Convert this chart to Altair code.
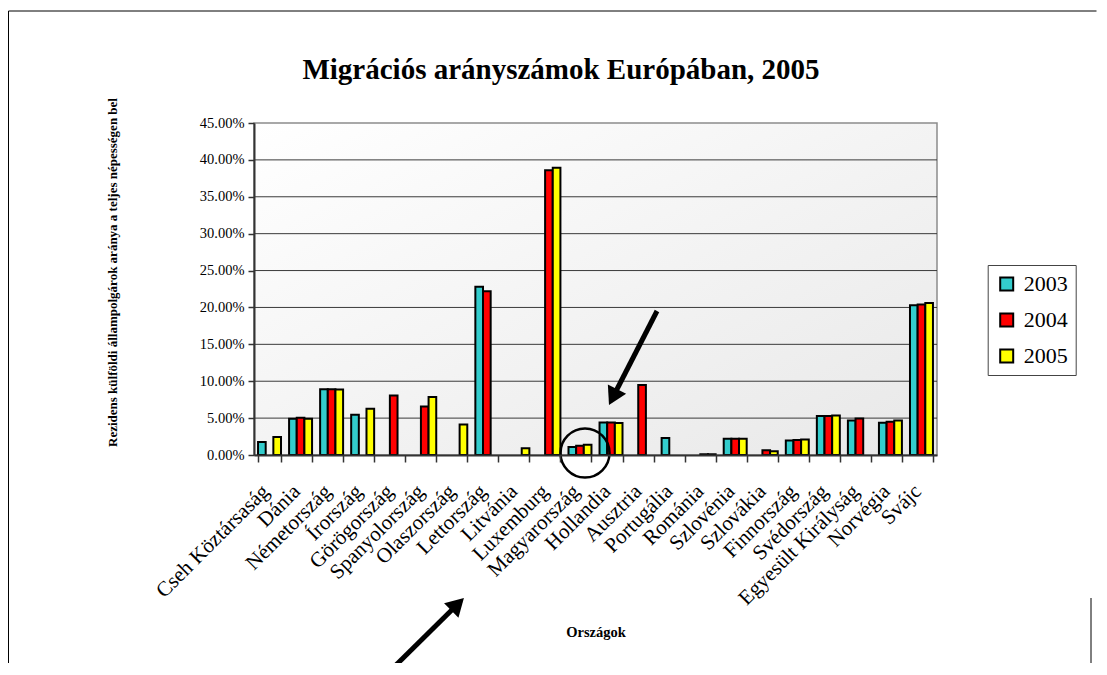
import altair as alt
import pandas as pd

# ---------------- data ----------------
countries = ["Cseh Köztársaság", "Dánia", "Németország", "Írország", "Görögország",
             "Spanyolország", "Olaszország", "Lettország", "Litvánia", "Luxemburg",
             "Magyarország", "Hollandia", "Ausztria", "Portugália", "Románia",
             "Szlovénia", "Szlovákia", "Finnország", "Svédország",
             "Egyesült Királyság", "Norvégia", "Svájc"]
years = ["2003", "2004", "2005"]
# percent values (None = no bar)
v2003 = [1.75, 4.9, 8.9, 5.45, None, None, None, 22.8, None, None, 1.1, 4.4,
         None, 2.3, None, 2.2, None, 1.97, 5.3, 4.67, 4.36, 20.3]
v2004 = [None, 5.05, 8.9, None, 8.08, 6.58, None, 22.2, None, 38.6, 1.27, 4.4,
         9.5, None, 0.1, 2.2, 0.63, 2.03, 5.3, 4.95, 4.5, 20.4]
v2005 = [2.45, 4.9, 8.87, 6.27, None, 7.85, 4.13, None, 0.9, 38.95, 1.4, 4.35,
         None, None, 0.1, 2.2, 0.5, 2.1, 5.35, None, 4.67, 20.6]
colors = ["#33CCCC", "#FF0000", "#FFFF00"]
y_ticks = [0.0, 0.05, 0.10, 0.15, 0.20, 0.25, 0.30, 0.35, 0.40, 0.45]
grid_vals = [0.05, 0.10, 0.15, 0.20, 0.25, 0.30, 0.35, 0.40]

title_text = "Migrációs arányszámok Európában, 2005"
y_title = "Rezidens külföldi állampolgárok aránya a teljes népességen bel"
x_title = "Országok"

rows = []
for y, vals in zip(years, [v2003, v2004, v2005]):
    for c, v in zip(countries, vals):
        if v is not None:
            rows.append({"country": c, "year": y, "value": v / 100.0})
df = pd.DataFrame(rows)
grid_df = pd.DataFrame({"value": grid_vals})
one = pd.DataFrame({"t": [title_text]})

W, H = 683, 332
SERIF = "Liberation Serif"

x_enc = alt.X("country:N", sort=countries,
              scale=alt.Scale(domain=countries, paddingInner=0.26, paddingOuter=0.13),
              axis=alt.Axis(title=x_title, labelAngle=-45, labelFont=SERIF, labelFontSize=21,
                            labelColor="black", labelOverlap=False, labelLimit=300,
                            labelPadding=26, labelOffset=-4,
                            labelAlign="right", labelBaseline="middle",
                            tickBand="extent", tickSize=7, tickColor="#333", tickWidth=1.5,
                            domainColor="#333", domainWidth=2, grid=False, zindex=1,
                            titleFont=SERIF, titleFontSize=14.5, titleFontWeight="bold",
                            titleColor="black", titleY=177, titleBaseline="middle"))
y_scale = alt.Scale(domain=[0, 0.45], nice=False)
y_axis = alt.Axis(values=y_ticks, format=".2%", title=y_title,
                  labelFont=SERIF, labelFontSize=14.5, labelColor="black",
                  labelPadding=4, tickSize=6, tickColor="#333", tickWidth=1.5,
                  domainColor="#333", domainWidth=2, grid=False, zindex=1,
                  titleFont=SERIF, titleFontSize=13, titleFontWeight="bold",
                  titleColor="black", titleX=-141.5, titleY=149,
                  titleAlign="center", titleBaseline="middle")

bg = alt.Chart(one).mark_rect(
    fill={"gradient": "linear", "x1": 0, "y1": 0, "x2": 1, "y2": 1,
          "stops": [{"offset": 0, "color": "#ffffff"}, {"offset": 1, "color": "#e8e8e8"}]},
    stroke="#8c8c8c", strokeWidth=1.5
).encode(x=alt.value(0), x2=alt.value(W), y=alt.value(0), y2=alt.value(H))

grid = alt.Chart(grid_df).mark_rule(color="#3a3a3a", strokeWidth=1).encode(
    y=alt.Y("value:Q", scale=y_scale, axis=y_axis)
)

bars = alt.Chart(df).mark_bar(stroke="black", strokeWidth=2, opacity=1).encode(
    x=x_enc,
    xOffset=alt.XOffset("year:N", sort=years, scale=alt.Scale(domain=years, paddingInner=0, paddingOuter=0)),
    y=alt.Y("value:Q", scale=y_scale, axis=y_axis),
    fill=alt.Fill("year:N", scale=alt.Scale(domain=years, range=colors),
                  legend=alt.Legend(title=None, orient="none", legendX=733.7, legendY=142,
                                    padding=8, strokeColor="#444", fillColor="white",
                                    symbolType="square", symbolSize=169,
                                    symbolStrokeColor="black", symbolStrokeWidth=2,
                                    symbolOpacity=1, labelFont=SERIF, labelFontSize=22,
                                    labelColor="black", rowPadding=14, labelOffset=6)),
)

title = alt.Chart(one).mark_text(font=SERIF, fontSize=29, fontWeight="bold",
                                 align="center", baseline="middle", color="black").encode(
    x=alt.value(307), y=alt.value(-53), text="t:N")

# annotations (arrows, circle, frame)
arrow1 = alt.Chart(one).mark_rule(color="black", strokeWidth=5).encode(
    x=alt.value(403), y=alt.value(188), x2=alt.value(359), y2=alt.value(274))
head1 = alt.Chart(one).mark_point(shape="triangle-up", filled=True, color="black",
                                  opacity=1, size=420, angle=206.8).encode(
    x=alt.value(359), y=alt.value(274))
arrow2 = alt.Chart(one).mark_rule(color="black", strokeWidth=5).encode(
    x=alt.value(138), y=alt.value(546), x2=alt.value(203.6), y2=alt.value(481.3))
head2 = alt.Chart(one).mark_point(shape="triangle-up", filled=True, color="black",
                                  opacity=1, size=420, angle=45.5).encode(
    x=alt.value(203.6), y=alt.value(481.3))
circle = alt.Chart(one).mark_point(shape="circle", filled=False, color="black",
                                   opacity=1, strokeWidth=2.5, size=2401).encode(
    x=alt.value(331), y=alt.value(330))
frame_top = alt.Chart(one).mark_rule(color="black", strokeWidth=1).encode(
    x=alt.value(-245.5), x2=alt.value(842.5), y=alt.value(-112))
frame_left = alt.Chart(one).mark_rule(color="black", strokeWidth=1).encode(
    x=alt.value(-245.5), y=alt.value(-112), y2=alt.value(540))
frame_right = alt.Chart(one).mark_rule(color="black", strokeWidth=1).encode(
    x=alt.value(837), y=alt.value(475), y2=alt.value(540))

chart = alt.layer(bg, grid, bars, title, arrow1, head1, arrow2, head2, circle,
                  frame_top, frame_left, frame_right).properties(
    width=W, height=H,
    autosize=alt.AutoSizeParams(type="none"),
    padding={"left": 246, "top": 115, "right": 160, "bottom": 208},
    background="white",
).configure_view(stroke=None)

chart.save("out.html", embed_options={"renderer": "svg", "actions": False})
